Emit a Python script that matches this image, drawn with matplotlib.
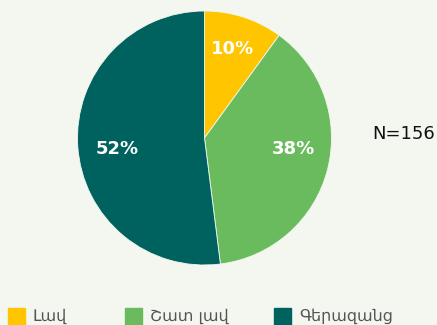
import matplotlib.pyplot as plt
from matplotlib.patches import Rectangle

# survey answers and their shares (%)
categories = ["Լավ", "Շատ լավ", "Գերազանց"]
shares = [10, 38, 52]
colors = ["#FFC600", "#6ABB5E", "#00625F"]
n_label = "N=156"

# where the percent labels sit inside the pie (axes data units)
label_pos = [(0.22, 0.70), (0.70, -0.09), (-0.69, -0.09)]

W, H = 437, 325
bg = "#F3F7F0"

fig = plt.figure(figsize=(W / 100, H / 100), dpi=100, facecolor=bg)

# pie axes placed in pixel units
ax = fig.add_axes([77.5 / W, (H - 265) / H, 254 / W, 254 / H])
ax.set_facecolor(bg)
wedges, texts, autotexts = ax.pie(
    shares, colors=colors, startangle=90, counterclock=False,
    autopct=lambda p: f"{p:.0f}%", pctdistance=0.72,
    wedgeprops=dict(linewidth=0.6, edgecolor=bg),
    textprops=dict(color="white", fontsize=13, fontweight="bold",
                   family="DejaVu Sans"))
for t, pos in zip(autotexts, label_pos):
    t.set_position(pos)
ax.set_xlim(-1, 1)
ax.set_ylim(-1, 1)
ax.set_aspect("equal")

# sample size, kept inside the right edge
fig.text(435 / W, 1 - 134 / H, n_label, fontsize=13, color="#111111",
         va="center", ha="right", family="DejaVu Sans")

# legend row at the bottom
legend_x = [8, 125, 274]
for x, label, c in zip(legend_x, categories, colors):
    fig.add_artist(Rectangle((x / W, 0), 17 / W, 17 / H, color=c,
                             transform=fig.transFigure))
    fig.text((x + 25) / W, 4 / H, label, fontsize=11.5, color="#555555",
             va="baseline", ha="left", family="DejaVu Sans")

fig.savefig("out.png", dpi=100, facecolor=bg)
